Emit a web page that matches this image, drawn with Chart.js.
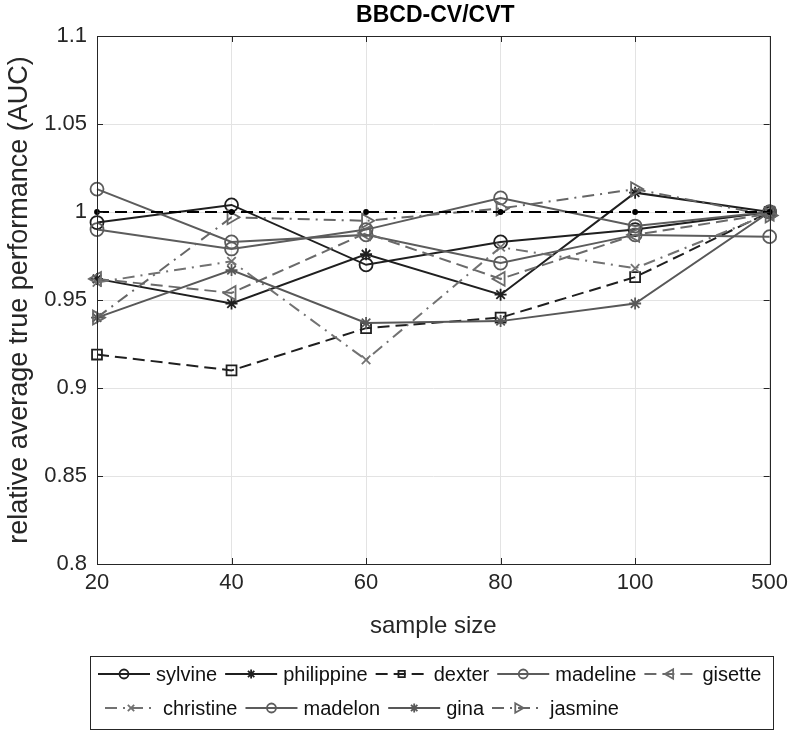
<!DOCTYPE html>
<html>
<head>
<meta charset="utf-8">
<script src="https://cdn.jsdelivr.net/npm/chart.js@4.4.1/dist/chart.umd.min.js"></script>
<style>
  html, body { margin: 0; padding: 0; background: #fff; }
  canvas { display: block; }
</style>
</head>
<body>
<canvas id="chart" width="794" height="731"></canvas>
<script>
// sample sizes on the x axis (categorical, evenly spaced)
const sampleSizes = ["20", "40", "60", "80", "100", "500"];
const yTicks = [0.8, 0.85, 0.9, 0.95, 1, 1.05, 1.1];

// relative average true performance (AUC)
const sylvine    = [0.994, 1.004, 0.970, 0.983, 0.990, 1.000];
const philippine = [0.962, 0.948, 0.976, 0.953, 1.011, 1.000];
const dexter     = [0.919, 0.910, 0.934, 0.940, 0.963, 1.000];
const madeline   = [1.013, 0.983, 0.987, 0.971, 0.987, 0.986];
const gisette    = [0.962, 0.954, 0.988, 0.962, 0.987, 0.999];
const christine  = [0.960, 0.972, 0.916, 0.980, 0.968, 0.999];
const madelon    = [0.990, 0.979, 0.990, 1.008, 0.992, 1.000];
const gina       = [0.940, 0.967, 0.937, 0.938, 0.948, 1.000];
const jasmine    = [0.940, 0.997, 0.995, 1.002, 1.013, 0.998];
const baseline   = [1, 1, 1, 1, 1, 1];

const FONT = '"Liberation Sans", Arial, Helvetica, sans-serif';
const AXIS = "#262626";
const DARK = "#1f1f1f";
const DASH = [12, 6];
const DASHDOT = [12, 6, 2, 6];

const PLOT = { left: 97, right: 773, top: 36, bottom: 564 };

function series(label, data, color, dash, pointStyle, radius, rotation) {
  return {
    label,
    data,
    borderColor: color,
    borderWidth: 2,
    borderDash: dash,
    pointStyle,
    pointRadius: radius,
    pointRotation: rotation || 0,
    pointBorderColor: color,
    pointBorderWidth: 1.8,
    pointBackgroundColor: "rgba(0,0,0,0)",
    tension: 0,
    fill: false,
    clip: false,
  };
}

const datasets = [
  series("sylvine",    sylvine,    DARK,      [],      "circle",   6.5),
  series("philippine", philippine, DARK,      [],      "star",     6),
  series("dexter",     dexter,     DARK,      DASH,    "rect",     7),
  series("madeline",   madeline,   "#5c5c5c", [],      "circle",   6.5),
  series("gisette",    gisette,    "#6a6a6a", DASH,    "triangle", 8, -90),
  series("christine",  christine,  "#727272", DASHDOT, "crossRot", 6),
  series("madelon",    madelon,    "#5c5c5c", [],      "circle",   6.5),
  series("gina",       gina,       "#585858", [],      "star",     6),
  series("jasmine",    jasmine,    "#666666", DASHDOT, "triangle", 8, 90),
];
// later series drawn on top, like the source figure
datasets.forEach((d, i) => { d.order = datasets.length - i + 1; });

const ref = series("", baseline, "#000000", DASH, "circle", 2);
ref.pointBackgroundColor = "#000";
ref.order = 0;
ref.isRef = true;
datasets.push(ref);

function strokePoint(ctx, ds, x, y, radius) {
  ctx.save();
  ctx.setLineDash([]);
  ctx.strokeStyle = ds.pointBorderColor;
  ctx.fillStyle = ds.pointBackgroundColor;
  ctx.lineWidth = ds.pointBorderWidth;
  Chart.helpers.drawPoint(ctx, {
    pointStyle: ds.pointStyle,
    radius,
    rotation: ds.pointRotation,
    borderWidth: ds.pointBorderWidth,
  }, x, y);
  ctx.restore();
}

const frame = {
  id: "frame",
  afterDatasetsDraw(chart) {
    const { ctx, chartArea: a, scales } = chart;
    ctx.save();
    ctx.strokeStyle = AXIS;
    ctx.lineWidth = 1;
    ctx.setLineDash([]);
    ctx.beginPath();
    // inward tick marks
    scales.x.ticks.forEach((t, i) => {
      const px = Math.round(scales.x.getPixelForTick(i)) + 0.5;
      ctx.moveTo(px, a.bottom); ctx.lineTo(px, a.bottom - 6);
      ctx.moveTo(px, a.top); ctx.lineTo(px, a.top + 6);
    });
    scales.y.ticks.forEach((t, i) => {
      const py = Math.round(scales.y.getPixelForTick(i)) + 0.5;
      ctx.moveTo(a.left, py); ctx.lineTo(a.left + 6, py);
      ctx.moveTo(a.right, py); ctx.lineTo(a.right - 6, py);
    });
    ctx.stroke();
    ctx.strokeRect(Math.round(a.left) + 0.5, Math.round(a.top) + 0.5,
      Math.round(a.right - a.left), Math.round(a.bottom - a.top));
    ctx.restore();
  },
  afterDraw(chart) {
    const { ctx, chartArea: a } = chart;
    const cx = (a.left + a.right) / 2;
    ctx.save();
    ctx.fillStyle = "#000";
    ctx.textAlign = "center";
    ctx.textBaseline = "middle";
    ctx.font = "bold 23px " + FONT;
    ctx.fillText("BBCD-CV/CVT", cx + 2, 16);

    ctx.fillStyle = AXIS;
    ctx.font = "24px " + FONT;
    ctx.fillText("sample size", cx, 626);
    ctx.save();
    ctx.translate(20, (a.top + a.bottom) / 2);
    ctx.rotate(-Math.PI / 2);
    ctx.font = "27px " + FONT;
    ctx.fillText("relative average true performance (AUC)", 0, 0);
    ctx.restore();

    // legend box
    const box = { left: 90, right: 773, top: 656, bottom: 729 };
    ctx.fillStyle = "#fff";
    ctx.fillRect(box.left, box.top, box.right - box.left, box.bottom - box.top);
    ctx.strokeStyle = AXIS;
    ctx.lineWidth = 1;
    ctx.strokeRect(box.left + 0.5, box.top + 0.5, box.right - box.left, box.bottom - box.top);

    ctx.font = "20px " + FONT;
    ctx.textAlign = "left";
    const rowY = [674, 708];
    const rowX = [98, 105];
    const sample = 52;
    let row = 0;
    let x = rowX[0];
    chart.data.datasets.filter(d => !d.isRef).forEach(ds => {
      const w = ctx.measureText(ds.label).width;
      const itemW = sample + 6 + w;
      if (x + itemW > box.right - 4) { row++; x = rowX[row]; }
      const y = rowY[row];
      ctx.save();
      ctx.strokeStyle = ds.borderColor;
      ctx.lineWidth = ds.borderWidth;
      ctx.setLineDash(ds.borderDash);
      ctx.beginPath();
      ctx.moveTo(x, y); ctx.lineTo(x + sample, y);
      ctx.stroke();
      ctx.restore();
      const r = ds.pointStyle === "triangle" ? 5.5 : 4.5;
      strokePoint(ctx, ds, x + sample / 2, y, r);
      ctx.fillStyle = "#111";
      ctx.fillText(ds.label, x + sample + 6, y + 1);
      x += itemW + 8;
    });
    ctx.restore();
  },
};

new Chart(document.getElementById("chart"), {
  type: "line",
  data: { labels: sampleSizes, datasets },
  options: {
    responsive: false,
    animation: false,
    devicePixelRatio: 1,
    layout: { padding: { top: PLOT.top, right: 794 - PLOT.right, left: 0, bottom: 0 } },
    plugins: { legend: { display: false }, title: { display: false }, tooltip: { enabled: false } },
    scales: {
      x: {
        type: "category",
        offset: false,
        grid: { color: "#e3e3e3", lineWidth: 1, drawTicks: false },
        border: { display: false },
        ticks: { color: AXIS, font: { family: FONT, size: 22 }, padding: 6, maxRotation: 0, autoSkip: false },
        afterFit(s) { s.height = 731 - PLOT.bottom; },
      },
      y: {
        type: "linear",
        min: 0.8,
        max: 1.1,
        afterBuildTicks(s) { s.ticks = yTicks.map(v => ({ value: v })); },
        grid: { color: "#e3e3e3", lineWidth: 1, drawTicks: false },
        border: { display: false },
        ticks: {
          color: AXIS,
          font: { family: FONT, size: 22 },
          padding: 10,
          callback: v => String(+Number(v).toFixed(2)),
        },
        afterFit(s) { s.width = PLOT.left; },
      },
    },
  },
  plugins: [frame],
});
</script>
</body>
</html>
